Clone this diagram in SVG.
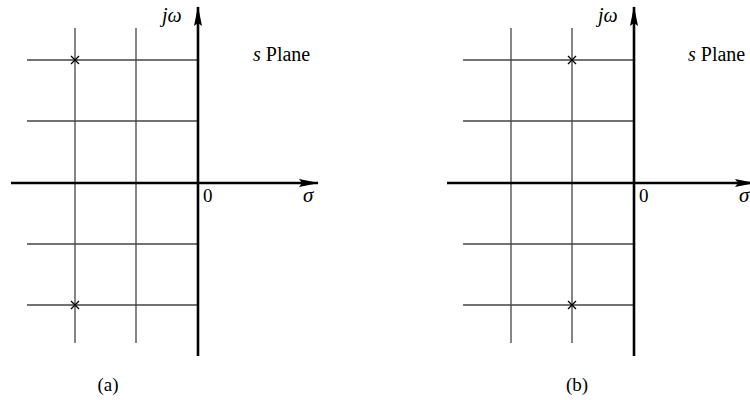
<svg xmlns="http://www.w3.org/2000/svg" width="750" height="400" viewBox="0 0 750 400">
<defs>
<style>
.grid{stroke:#444;stroke-width:1.3;fill:none}
.axis{stroke:#000;stroke-width:2.6;fill:none}
.pole{stroke:#000;stroke-width:1.3;fill:none}
text{font-family:'Liberation Serif','Times New Roman',serif;fill:#000}
.it{font-style:italic}
</style>
<marker id="ah" viewBox="0 0 20 8" refX="19" refY="4" markerWidth="20" markerHeight="8" markerUnits="userSpaceOnUse" orient="auto">
<path d="M0,0 L20,4 L0,8 L3,4 Z" fill="#000"/>
</marker>
</defs>
<g id="plane-a" font-family="Liberation Serif, serif">
<g id="grid-a">
<line class="grid" x1="75" y1="28" x2="75" y2="343"/>
<line class="grid" x1="136" y1="28" x2="136" y2="343"/>
<line class="grid" x1="27" y1="60" x2="198" y2="60"/>
<line class="grid" x1="27" y1="121" x2="198" y2="121"/>
<line class="grid" x1="27" y1="244" x2="198" y2="244"/>
<line class="grid" x1="27" y1="305" x2="198" y2="305"/>
</g>
<g id="axes-a">
<line class="axis" x1="11" y1="183" x2="318" y2="183" marker-end="url(#ah)"/>
<line class="axis" x1="198" y1="356" x2="198" y2="7" marker-end="url(#ah)"/>
</g>
<g id="poles-a">
<path class="pole" d="M71,56 L79,64 M79,56 L71,64"/>
<path class="pole" d="M71,301 L79,309 M79,301 L71,309"/>
</g>
<text class="it" x="162" y="22" font-size="20">jω</text>
<text x="253" y="61" font-size="20"><tspan class="it">s</tspan> Plane</text>
<text x="203" y="202" font-size="19">0</text>
<text class="it" x="303" y="202" font-size="21">σ</text>
<text x="108" y="391" font-size="19" text-anchor="middle">(a)</text>
</g>
<g id="plane-b" font-family="Liberation Serif, serif">
<g id="grid-b">
<line class="grid" x1="511" y1="28" x2="511" y2="343"/>
<line class="grid" x1="572" y1="28" x2="572" y2="343"/>
<line class="grid" x1="463" y1="60" x2="634" y2="60"/>
<line class="grid" x1="463" y1="121" x2="634" y2="121"/>
<line class="grid" x1="463" y1="244" x2="634" y2="244"/>
<line class="grid" x1="463" y1="305" x2="634" y2="305"/>
</g>
<g id="axes-b">
<line class="axis" x1="447" y1="183" x2="754" y2="183" marker-end="url(#ah)"/>
<line class="axis" x1="634" y1="356" x2="634" y2="7" marker-end="url(#ah)"/>
</g>
<g id="poles-b">
<path class="pole" d="M568,56 L576,64 M576,56 L568,64"/>
<path class="pole" d="M568,301 L576,309 M576,301 L568,309"/>
</g>
<text class="it" x="598" y="22" font-size="20">jω</text>
<text x="688" y="61" font-size="20"><tspan class="it">s</tspan> Plane</text>
<text x="639" y="202" font-size="19">0</text>
<text class="it" x="739" y="202" font-size="21">σ</text>
<text x="577" y="391" font-size="19" text-anchor="middle">(b)</text>
</g>
</svg>
